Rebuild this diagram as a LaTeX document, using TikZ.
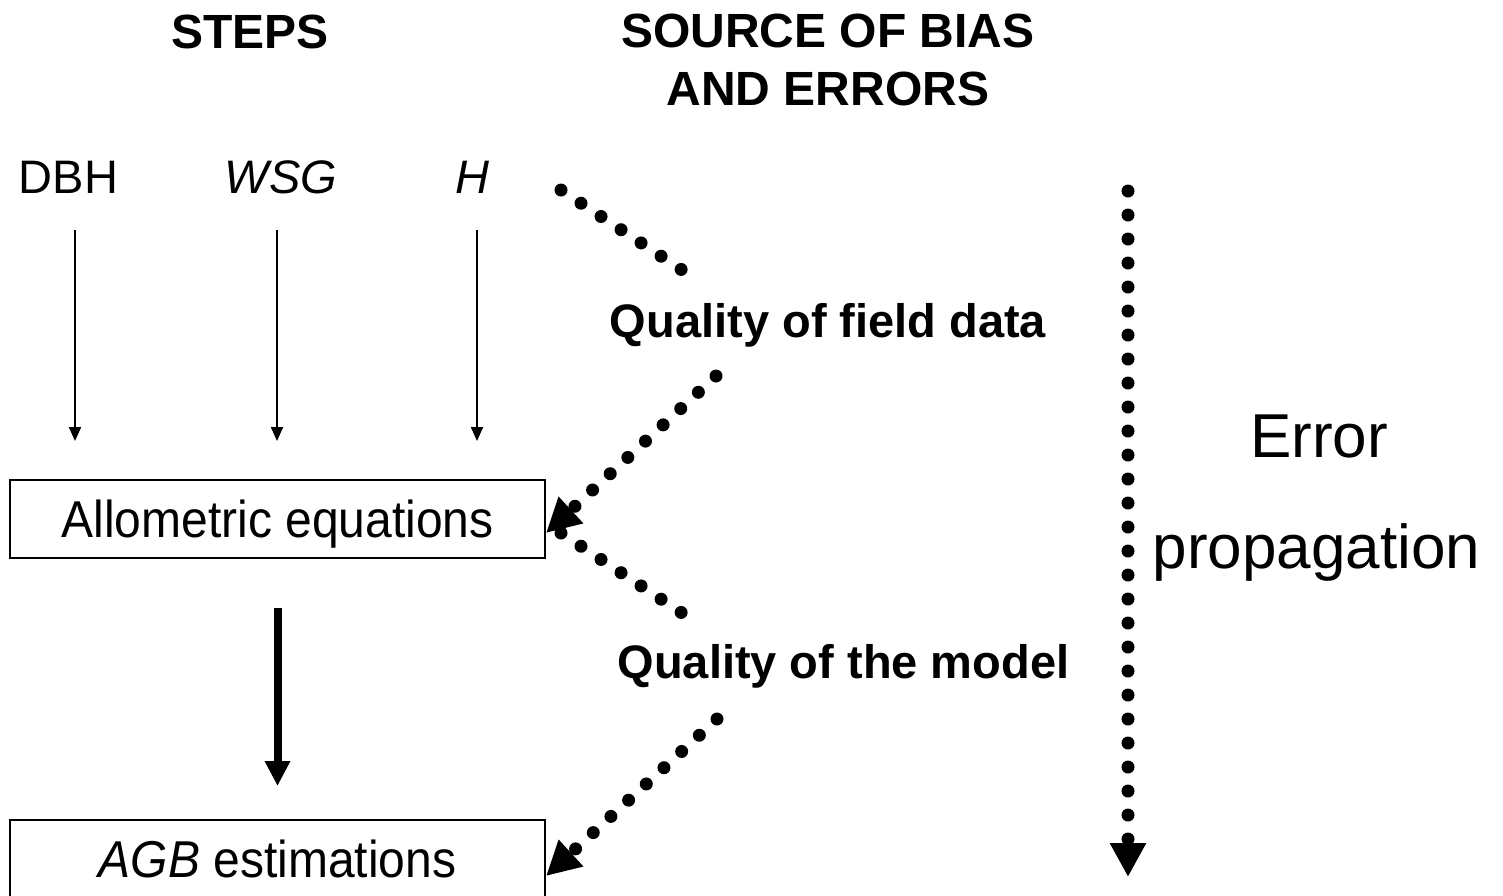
\documentclass[tikz,border=0pt]{standalone}
\usepackage{fontspec}
\setmainfont{Liberation Sans}
\usepackage{graphicx}
\usetikzlibrary{arrows.meta}

\newcommand{\tallbox}[1]{\scalebox{1}[1.08]{#1}}

\begin{document}
\begin{tikzpicture}[x=0.5pt, y=-0.5pt]
    % Define styles
    \tikzstyle{head} = [font=\fontsize{24}{29}\selectfont\bfseries, align=center]
    \tikzstyle{var} = [font=\fontsize{23.5}{28}\selectfont, anchor=base]
    \tikzstyle{src} = [font=\fontsize{23.5}{28}\selectfont\bfseries, anchor=base]
    \tikzstyle{prop} = [font=\fontsize{31}{37}\selectfont, anchor=base]
    \tikzstyle{block} = [rectangle, draw, line width=1pt, minimum width=267.5pt, minimum height=39pt, text depth=0pt, font=\fontsize{24}{29}\selectfont]
    \tikzstyle{line} = [draw, line width=1pt, -{Triangle[length=7pt, width=6pt]}]
    \tikzstyle{bigline} = [draw, line width=4pt, -{Triangle[length=12.5pt, width=12pt]}]
    \tikzstyle{dots} = [draw, line width=6.5pt, line cap=round, dash pattern=on 0pt off 12pt, -{Triangle[length=17pt, width=17pt]}]
    \tikzstyle{dotsplain} = [draw, line width=6.5pt, line cap=round, dash pattern=on 0pt off 12pt]

    \useasboundingbox (0,0) rectangle (1503,895);

    % Nodes
    \node [head, anchor=base] (steps) at (250,48) {STEPS};
    \node [head] (source) at (828,60) {SOURCE OF BIAS\\AND ERRORS};

    \node [var] (dbh) at (68.5,193) {DBH};
    \node [var] (wsg) at (281,193) {\itshape WSG};
    \node [var] (h) at (472,193) {\itshape H};

    \node [block] (allom) at (277.5,519) {\tallbox{Allometric equations}};
    \node [block] (estim) at (277.5,859) {\tallbox{\textit{AGB} estimations}};

    \node [src] (field) at (828,337) {Quality of field data};
    \node [src] (model) at (843.5,678) {Quality of the model};

    \node [prop] (error) at (1319,457) {Error};
    \node [prop] (propag) at (1316.5,568) {propagation};

    \coordinate (hdots) at (561,190);
    \coordinate (fieldtop) at (682,270);
    \coordinate (fieldbot) at (716,376);
    \coordinate (modeltop) at (682,613);
    \coordinate (modelbot) at (717,719);
    \coordinate (proptop) at (1128,191);
    \coordinate (propend) at (1128,877);

    % Connections
    \path [line] ([shift={(6.5,37)}]dbh.base) -- ([shift={(6.5,-38)}]dbh.base |- allom.north);
    \path [line] ([shift={(-4,37)}]wsg.base) -- ([shift={(-4,-38)}]wsg.base |- allom.north);
    \path [line] ([shift={(5,37)}]h.base) -- ([shift={(5,-38)}]h.base |- allom.north);
    \path [bigline] ([yshift=-24.5pt]allom.south) -- ([yshift=16.5pt]estim.north);

    \path [dotsplain] (hdots) -- (fieldtop);
    \path [dots] (fieldbot) -- ([yshift=-7pt]allom.east);
    \path [dotsplain] ([shift={(15,14)}]allom.east) -- (modeltop);
    \path [dots] (modelbot) -- ([yshift=-8.5pt]estim.east);
    \path [dots] (proptop) -- (propend);
\end{tikzpicture}
\end{document}
